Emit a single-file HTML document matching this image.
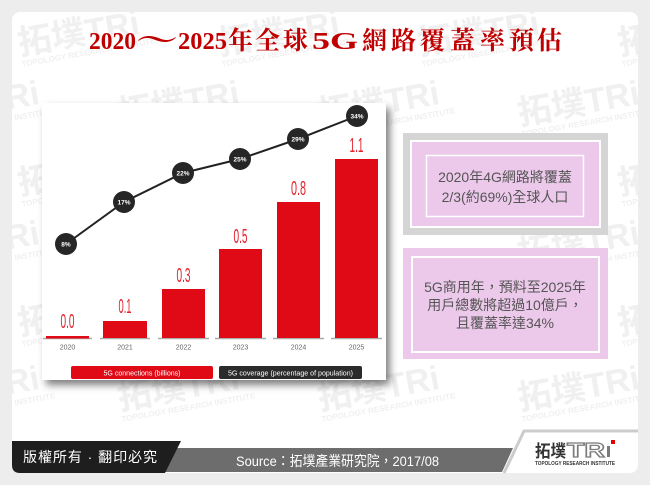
<!DOCTYPE html>
<html>
<head>
<meta charset="utf-8">
<style>
  html,body{margin:0;padding:0;background:#ededed;}
  body{width:650px;height:485px;overflow:hidden;}
  svg{display:block;}
</style>
</head>
<body>
<svg width="650" height="485" viewBox="0 0 650 485" xmlns="http://www.w3.org/2000/svg">
  <defs>
    <filter id="sh" x="-10%" y="-10%" width="130%" height="130%">
      <feDropShadow dx="4" dy="5" stdDeviation="4" flood-color="#000" flood-opacity="0.5"/>
    </filter>
    <clipPath id="card"><rect x="12" y="12" width="626" height="461" rx="8"/></clipPath>
  </defs>

  <!-- page background + card -->
  <rect width="650" height="485" fill="#ededed"/>
  <rect x="12" y="12" width="626" height="461" rx="8" fill="#ffffff"/>

  <!-- watermark -->
  <g clip-path="url(#card)" fill="#f0f0f0" font-family="'Liberation Sans','Noto Sans CJK TC',sans-serif" font-weight="bold">
    <g transform="translate(20,55) rotate(-10)"><text font-size="34">拓墣TRi</text><text y="12" font-size="8">TOPOLOGY RESEARCH INSTITUTE</text></g>
    <g transform="translate(220,55) rotate(-10)"><text font-size="34">拓墣TRi</text><text y="12" font-size="8">TOPOLOGY RESEARCH INSTITUTE</text></g>
    <g transform="translate(420,55) rotate(-10)"><text font-size="34">拓墣TRi</text><text y="12" font-size="8">TOPOLOGY RESEARCH INSTITUTE</text></g>
    <g transform="translate(620,55) rotate(-10)"><text font-size="34">拓墣TRi</text><text y="12" font-size="8">TOPOLOGY RESEARCH INSTITUTE</text></g>
    <g transform="translate(-80,125) rotate(-10)"><text font-size="34">拓墣TRi</text><text y="12" font-size="8">TOPOLOGY RESEARCH INSTITUTE</text></g>
    <g transform="translate(120,125) rotate(-10)"><text font-size="34">拓墣TRi</text><text y="12" font-size="8">TOPOLOGY RESEARCH INSTITUTE</text></g>
    <g transform="translate(320,125) rotate(-10)"><text font-size="34">拓墣TRi</text><text y="12" font-size="8">TOPOLOGY RESEARCH INSTITUTE</text></g>
    <g transform="translate(520,125) rotate(-10)"><text font-size="34">拓墣TRi</text><text y="12" font-size="8">TOPOLOGY RESEARCH INSTITUTE</text></g>
    <g transform="translate(20,195) rotate(-10)"><text font-size="34">拓墣TRi</text><text y="12" font-size="8">TOPOLOGY RESEARCH INSTITUTE</text></g>
    <g transform="translate(420,195) rotate(-10)"><text font-size="34">拓墣TRi</text><text y="12" font-size="8">TOPOLOGY RESEARCH INSTITUTE</text></g>
    <g transform="translate(620,195) rotate(-10)"><text font-size="34">拓墣TRi</text><text y="12" font-size="8">TOPOLOGY RESEARCH INSTITUTE</text></g>
    <g transform="translate(-80,265) rotate(-10)"><text font-size="34">拓墣TRi</text><text y="12" font-size="8">TOPOLOGY RESEARCH INSTITUTE</text></g>
    <g transform="translate(520,265) rotate(-10)"><text font-size="34">拓墣TRi</text><text y="12" font-size="8">TOPOLOGY RESEARCH INSTITUTE</text></g>
    <g transform="translate(20,335) rotate(-10)"><text font-size="34">拓墣TRi</text><text y="12" font-size="8">TOPOLOGY RESEARCH INSTITUTE</text></g>
    <g transform="translate(420,335) rotate(-10)"><text font-size="34">拓墣TRi</text><text y="12" font-size="8">TOPOLOGY RESEARCH INSTITUTE</text></g>
    <g transform="translate(620,335) rotate(-10)"><text font-size="34">拓墣TRi</text><text y="12" font-size="8">TOPOLOGY RESEARCH INSTITUTE</text></g>
    <g transform="translate(-80,410) rotate(-10)"><text font-size="34">拓墣TRi</text><text y="12" font-size="8">TOPOLOGY RESEARCH INSTITUTE</text></g>
    <g transform="translate(120,410) rotate(-10)"><text font-size="34">拓墣TRi</text><text y="12" font-size="8">TOPOLOGY RESEARCH INSTITUTE</text></g>
    <g transform="translate(320,410) rotate(-10)"><text font-size="34">拓墣TRi</text><text y="12" font-size="8">TOPOLOGY RESEARCH INSTITUTE</text></g>
    <g transform="translate(520,410) rotate(-10)"><text font-size="34">拓墣TRi</text><text y="12" font-size="8">TOPOLOGY RESEARCH INSTITUTE</text></g>
  </g>

  <!-- title -->
  <g fill="#c00000" font-family="'Liberation Serif','Noto Serif CJK SC',serif" font-weight="bold">
    <text x="89" y="49" font-size="24" textLength="47" lengthAdjust="spacingAndGlyphs">2020</text>
    <text x="136" y="49" font-size="26" textLength="42" lengthAdjust="spacingAndGlyphs">～</text>
    <text x="178" y="49" font-size="24" textLength="49" lengthAdjust="spacingAndGlyphs">2025</text>
    <text x="228" y="49" font-size="25">年</text>
    <text x="255" y="49" font-size="25">全</text>
    <text x="283" y="49" font-size="25">球</text>
    <text x="312" y="49" font-size="24" textLength="46" lengthAdjust="spacingAndGlyphs">5G</text>
    <text x="362" y="49" font-size="25">網</text>
    <text x="391" y="49" font-size="25">路</text>
    <text x="420" y="49" font-size="25">覆</text>
    <text x="450" y="49" font-size="25">蓋</text>
    <text x="480" y="49" font-size="25">率</text>
    <text x="509" y="49" font-size="25">預</text>
    <text x="537" y="49" font-size="25">估</text>
  </g>

  <!-- chart box -->
  <rect x="42" y="103" width="344" height="277" fill="#ffffff" filter="url(#sh)"/>

  <!-- baseline segments -->
  <g stroke="#aaaaaa" stroke-width="1.5">
    <line x1="43" y1="338.5" x2="92" y2="338.5"/>
    <line x1="100" y1="338.5" x2="150" y2="338.5"/>
    <line x1="158" y1="338.5" x2="209" y2="338.5"/>
    <line x1="215" y1="338.5" x2="266" y2="338.5"/>
    <line x1="273" y1="338.5" x2="324" y2="338.5"/>
    <line x1="331" y1="338.5" x2="382" y2="338.5"/>
  </g>

  <!-- bars -->
  <g fill="#df0a16">
    <rect x="46" y="336" width="43" height="2.5"/>
    <rect x="103" y="321" width="44" height="17"/>
    <rect x="162" y="289" width="43" height="49"/>
    <rect x="219" y="249" width="43" height="89"/>
    <rect x="277" y="202" width="43" height="136"/>
    <rect x="335" y="159" width="43" height="179"/>
  </g>

  <!-- value labels -->
  <g fill="#e3222c" font-family="'Liberation Sans',sans-serif" font-size="20" text-anchor="middle">
    <text x="67.5" y="328" textLength="14" lengthAdjust="spacingAndGlyphs">0.0</text>
    <text x="125" y="313" textLength="13" lengthAdjust="spacingAndGlyphs">0.1</text>
    <text x="183.5" y="282" textLength="14" lengthAdjust="spacingAndGlyphs">0.3</text>
    <text x="240.5" y="243" textLength="14" lengthAdjust="spacingAndGlyphs">0.5</text>
    <text x="298.5" y="195" textLength="15" lengthAdjust="spacingAndGlyphs">0.8</text>
    <text x="356.5" y="152" textLength="14" lengthAdjust="spacingAndGlyphs">1.1</text>
  </g>

  <!-- year labels -->
  <g fill="#666666" font-family="'Liberation Sans',sans-serif" font-size="7" text-anchor="middle">
    <text x="67.5" y="349.5">2020</text>
    <text x="125" y="349.5">2021</text>
    <text x="183.5" y="349.5">2022</text>
    <text x="240.5" y="349.5">2023</text>
    <text x="298.5" y="349.5">2024</text>
    <text x="356.5" y="349.5">2025</text>
  </g>

  <!-- coverage line -->
  <polyline points="66,244 124,202 183,173 240,159 298,139 357,116" fill="none" stroke="#222222" stroke-width="2"/>
  <g fill="#262626">
    <circle cx="66" cy="244" r="11"/>
    <circle cx="124" cy="202" r="11"/>
    <circle cx="183" cy="173" r="11"/>
    <circle cx="240" cy="159" r="11"/>
    <circle cx="298" cy="139" r="11"/>
    <circle cx="357" cy="116" r="11"/>
  </g>
  <g fill="#ffffff" font-family="'Liberation Sans',sans-serif" font-size="6.5" font-weight="bold" text-anchor="middle">
    <text x="66" y="246.5">8%</text>
    <text x="124" y="204.5">17%</text>
    <text x="183" y="175.5">22%</text>
    <text x="240" y="161.5">25%</text>
    <text x="298" y="141.5">29%</text>
    <text x="357" y="118.5">34%</text>
  </g>

  <!-- legend -->
  <rect x="71" y="366" width="142" height="13" rx="2" fill="#df0a16"/>
  <rect x="219" y="366" width="143" height="13" rx="2" fill="#2b2b2b"/>
  <g fill="#ffffff" font-family="'Liberation Sans',sans-serif" font-size="7.5" text-anchor="middle">
    <text x="142" y="375.5" textLength="77" lengthAdjust="spacingAndGlyphs">5G connections (billions)</text>
    <text x="290.5" y="375.5" textLength="125" lengthAdjust="spacingAndGlyphs">5G coverage (percentage of population)</text>
  </g>

  <!-- right box 1 -->
  <rect x="403" y="133" width="205" height="102" fill="#d5d5d5"/>
  <rect x="411" y="141" width="189" height="86" fill="#ecc9eb" stroke="#ffffff" stroke-width="2"/>
  <rect x="426.5" y="155.5" width="157" height="61" fill="none" stroke="#ffffff" stroke-width="1.5"/>
  <g fill="#555555" font-family="'Liberation Sans','Noto Sans CJK TC',sans-serif" font-size="14" text-anchor="middle">
    <text x="505" y="182">2020年4G網路將覆蓋</text>
    <text x="505" y="202">2/3(約69%)全球人口</text>
  </g>

  <!-- right box 2 -->
  <rect x="403" y="248" width="205" height="111" fill="#ecc9eb"/>
  <rect x="412" y="257" width="187" height="95" fill="none" stroke="#ffffff" stroke-width="2"/>
  <g fill="#555555" font-family="'Liberation Sans','Noto Sans CJK TC',sans-serif" font-size="14" text-anchor="middle">
    <text x="505" y="292">5G商用年，預料至2025年</text>
    <text x="505" y="310">用戶總數將超過10億戶，</text>
    <text x="505" y="328">且覆蓋率達34%</text>
  </g>

  <!-- footer -->
  <polygon points="170,448 513,448 502,472 160,472" fill="#6d6d6d"/>
  <path d="M12,441 H181 L165,473 H20 Q12,473 12,465 Z" fill="#1e1e1e"/>
  <polyline points="504,473 524,431 638,431" fill="none" stroke="#cccccc" stroke-width="3"/>

  <text x="23" y="462" fill="#ffffff" font-family="'Liberation Sans','Noto Sans CJK TC',sans-serif" font-size="14" textLength="134" lengthAdjust="spacing">版權所有 · 翻印必究</text>
  <text x="236" y="466" fill="#ffffff" font-family="'Liberation Sans','Noto Sans CJK TC',sans-serif" font-size="14" textLength="203" lengthAdjust="spacingAndGlyphs">Source：拓墣產業研究院，2017/08</text>

  <!-- logo -->
  <text x="535" y="457" fill="#333333" font-family="'Liberation Sans','Noto Sans CJK TC',sans-serif" font-size="17" font-weight="bold" textLength="31" lengthAdjust="spacingAndGlyphs">拓墣</text>
  <text x="567" y="457" fill="none" stroke="#7a7a7a" stroke-width="1.2" font-family="'Liberation Sans',sans-serif" font-size="20" font-weight="bold" textLength="38" lengthAdjust="spacingAndGlyphs">TR</text>
  <rect x="607" y="446" width="3" height="11" fill="#7a7a7a"/>
  <rect x="611" y="440" width="4" height="4" fill="#e00000"/>
  <text x="535" y="465" fill="#333333" font-family="'Liberation Sans',sans-serif" font-size="5" font-weight="bold" textLength="80" lengthAdjust="spacingAndGlyphs">TOPOLOGY RESEARCH INSTITUTE</text>
</svg>
</body>
</html>
